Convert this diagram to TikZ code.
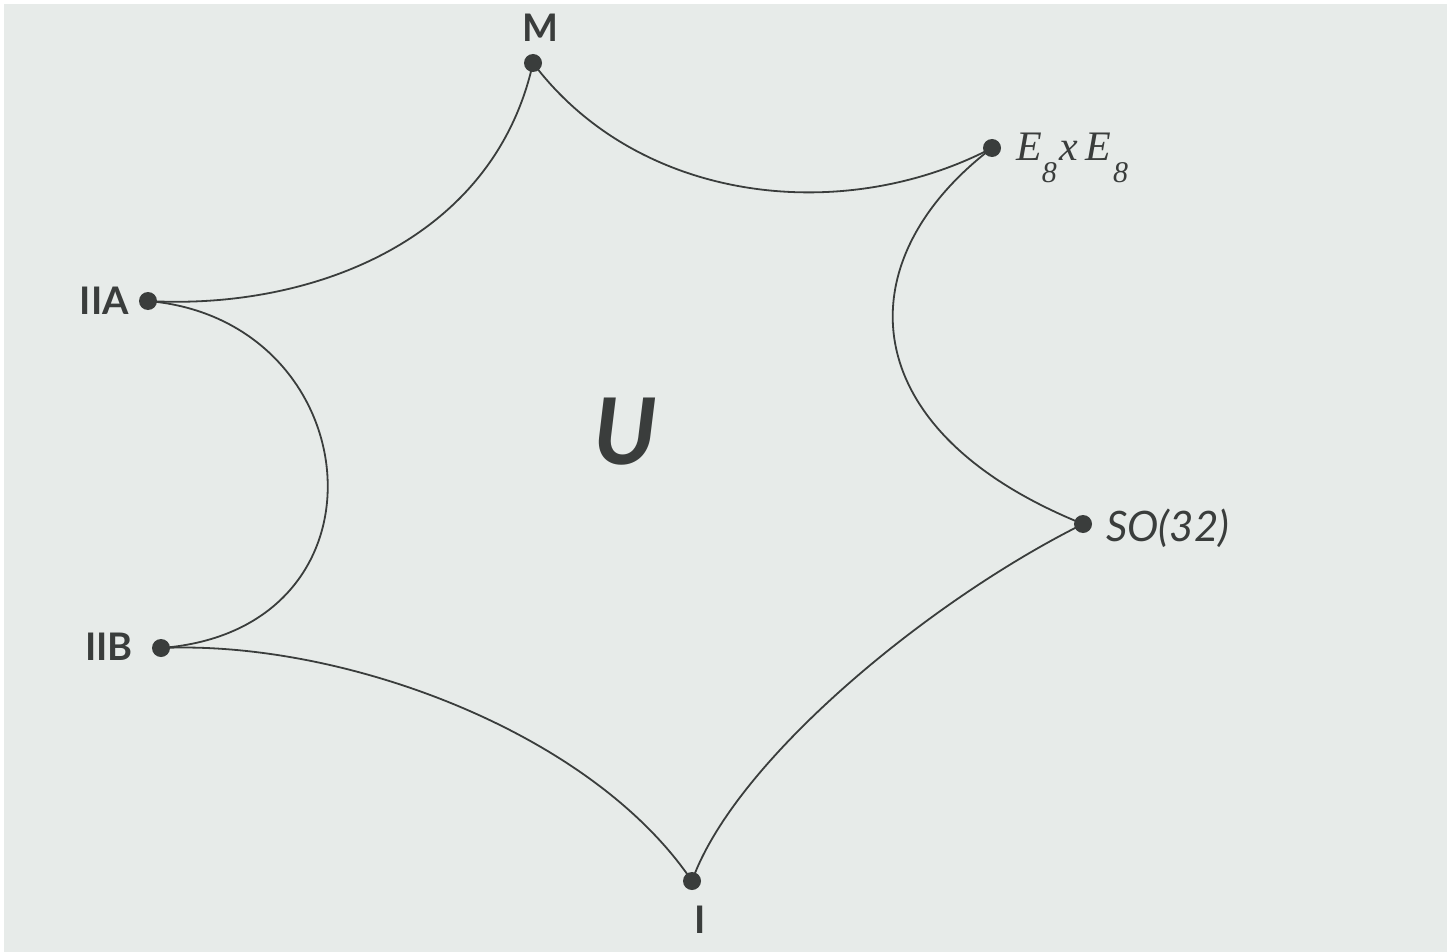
\documentclass[tikz,border=0pt]{standalone}
\usepackage{fontspec}
\setmainfont{Liberation Serif}
\newfontfamily\labfont{Lato}
\definecolor{bgc}{HTML}{E7EBE9}
\definecolor{ink}{HTML}{3A3D3C}
\begin{document}
\begin{tikzpicture}[x=1pt,y=-1pt,
  dotnode/.style={circle,fill=ink,draw=none,minimum size=18pt,inner sep=0pt},
  edge/.style={draw=ink,line width=1.8pt},
  lab/.style={text=ink,inner sep=0pt,font=\labfont\bfseries\fontsize{38}{42}\selectfont},
  ilab/.style={text=ink,inner sep=0pt,font=\labfont\itshape\fontsize{42}{46}\selectfont}]
\fill[white] (0,0) rectangle (1447,952);
\fill[bgc] (4,4) rectangle (1447,952);
\useasboundingbox (0,0) rectangle (1447,952);
% vertices
\node[dotnode] (M)   at (533,63)  {};
\node[dotnode] (E)   at (992,148) {};
\node[dotnode] (SO)  at (1083,524) {};
\node[dotnode] (I)   at (692,881) {};
\node[dotnode] (IIB) at (161,648) {};
\node[dotnode] (IIA) at (148,301) {};
% edges
\draw[edge] (M.center) .. controls (640,205) and (845,225) .. (E.center);
\draw[edge] (E.center) .. controls (845,260) and (850,430) .. (SO.center);
\draw[edge] (SO.center) .. controls (930,600) and (735,760) .. (I.center);
\draw[edge] (I.center) .. controls (590,730) and (340,640) .. (IIB.center);
\draw[edge] (IIB.center) .. controls (400,630) and (370,320) .. (IIA.center);
\draw[edge] (IIA.center) .. controls (308,310) and (493,243) .. (M.center);
% labels
\node[lab] (lM) at (540,28) {M};
\node[lab,anchor=east] (lIIA) at (129,301) {IIA};
\node[lab,anchor=east] (lIIB) at (133,647) {IIB};
\node[lab] (lI) at (700,920) {I};
\node[text=ink,inner sep=0pt,font=\labfont\bfseries\itshape\fontsize{92}{96}\selectfont] (U) at (625,432) {U};
\node[ilab,anchor=west] (lSO) at (1106,528) {SO(32)};
\node[text=ink,inner sep=0pt,anchor=base west,font=\itshape\fontsize{42}{46}\selectfont] (lE) at (1016,161)
  {E\raisebox{-0.5em}{\fontsize{30}{32}\selectfont 8}\kern3pt x\kern7pt E\kern2pt\raisebox{-0.5em}{\fontsize{30}{32}\selectfont 8}};
\end{tikzpicture}
\end{document}
